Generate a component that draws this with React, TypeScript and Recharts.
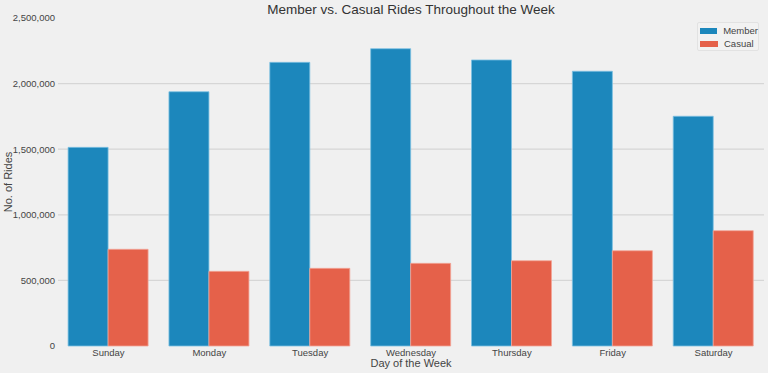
import { BarChart, Bar, XAxis, YAxis, CartesianGrid } from 'recharts'

const days = ['Sunday', 'Monday', 'Tuesday', 'Wednesday', 'Thursday', 'Friday', 'Saturday']
const memberRides = [1514000, 1938000, 2162000, 2266000, 2180000, 2094000, 1751000]
const casualRides = [737000, 569000, 592000, 630000, 650000, 726000, 879000]
const yTicks = [0, 500000, 1000000, 1500000, 2000000, 2500000]

const chartData = days.map((day, i) => ({
  day,
  Member: memberRides[i],
  Casual: casualRides[i],
}))

const font = '"Liberation Sans", Arial, sans-serif'
const textColor = '#444'
const memberColor = '#1c87bc'
const casualColor = '#e5614a'

function LegendBox() {
  const items = [
    { name: 'Member', color: memberColor },
    { name: 'Casual', color: casualColor },
  ]
  return (
    <div
      style={{
        position: 'absolute',
        left: 697,
        top: 22,
        width: 62,
        height: 29,
        boxSizing: 'border-box',
        border: '1px solid #e2e2e2',
        background: '#f2f2f2',
        borderRadius: 2,
        padding: '1px 0 0 2px',
        fontSize: 9.5,
        color: textColor,
      }}
    >
      {items.map((it) => (
        <div key={it.name} style={{ display: 'flex', alignItems: 'center', height: 13 }}>
          <span style={{ width: 18, height: 6, background: it.color, marginRight: 6 }} />
          {it.name}
        </div>
      ))}
    </div>
  )
}

export default function App() {
  return (
    <div
      style={{
        position: 'absolute',
        left: 0,
        top: 0,
        width: 768,
        height: 373,
        background: '#f0f0f0',
        fontFamily: font,
      }}
    >
      <BarChart
        width={768}
        height={373}
        data={chartData}
        margin={{ top: 18, right: 4, left: 0, bottom: 0 }}
        barCategoryGap="10%"
        barGap={0}
      >
        <CartesianGrid
          vertical={false}
          stroke="#d6d6d6"
          strokeWidth={1.3}
          horizontalValues={[500000, 1000000, 1500000, 2000000]}
        />
        <XAxis
          dataKey="day"
          height={27}
          axisLine={false}
          tickLine={false}
          tickSize={0}
          tickMargin={3}
          tick={{ fontSize: 9.5, fill: textColor, fontFamily: font }}
        />
        <YAxis
          width={58}
          domain={[0, 2500000]}
          ticks={yTicks}
          axisLine={false}
          tickLine={false}
          tickSize={0}
          tickMargin={3}
          tickFormatter={(v: number) => v.toLocaleString('en-US')}
          tick={{ fontSize: 9.5, fill: textColor, fontFamily: font }}
        />
        <Bar dataKey="Member" fill={memberColor} stroke="#7cc0e2" strokeWidth={0.8} isAnimationActive={false} />
        <Bar dataKey="Casual" fill={casualColor} stroke="#f2a497" strokeWidth={0.8} isAnimationActive={false} />
      </BarChart>
      <div
        style={{
          position: 'absolute',
          left: 58,
          width: 706,
          top: 2,
          textAlign: 'center',
          fontSize: 13.5,
          lineHeight: '16px',
          color: '#333',
        }}
      >
        Member vs. Casual Rides Throughout the Week
      </div>
      <div
        style={{
          position: 'absolute',
          left: 58,
          width: 706,
          top: 357,
          textAlign: 'center',
          fontSize: 11,
          lineHeight: '13px',
          color: textColor,
        }}
      >
        Day of the Week
      </div>
      <div
        style={{
          position: 'absolute',
          left: 8,
          top: 182,
          transform: 'translate(-50%, -50%) rotate(-90deg)',
          whiteSpace: 'nowrap',
          fontSize: 11,
          lineHeight: '13px',
          color: textColor,
        }}
      >
        No. of Rides
      </div>
      <LegendBox />
    </div>
  )
}
